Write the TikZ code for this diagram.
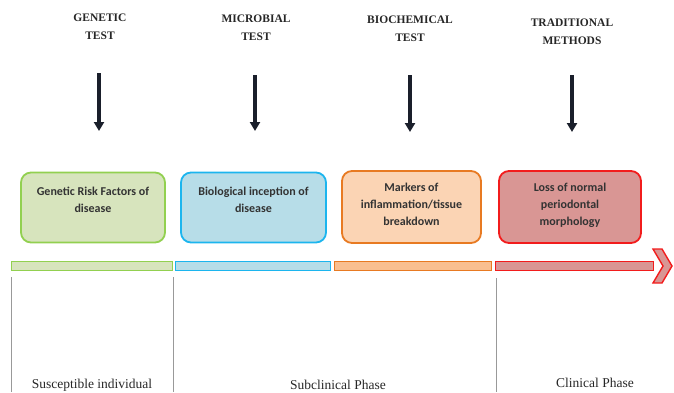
\documentclass[tikz,border=0pt]{standalone}
\usepackage{fontspec}
\setmainfont{Liberation Serif}
\newfontfamily\boxfont{Carlito}
\usetikzlibrary{arrows.meta}
\definecolor{gB}{HTML}{92D050}\definecolor{gF}{HTML}{D7E4BD}
\definecolor{bB}{HTML}{1CB5EE}\definecolor{bF}{HTML}{B7DDE8}
\definecolor{oB}{HTML}{E87A22}\definecolor{oF}{HTML}{FBD4B4}\definecolor{oF2}{HTML}{F9BF90}
\definecolor{rB}{HTML}{F21C1C}\definecolor{rF}{HTML}{D99694}
\definecolor{arr}{HTML}{1A1F2B}
\begin{document}
\begin{tikzpicture}[x=1pt,y=-1pt,
  title/.style={align=center,font=\bfseries\fontsize{11.5}{18}\selectfont,text=black!85,inner sep=0pt},
  stagebox/.style={draw=#1B,fill=#1F,line width=1.8pt,rounded corners=10pt,minimum width=144pt,minimum height=70pt,inner sep=0pt},
  boxtext/.style={align=center,font=\boxfont\bfseries\fontsize{12}{17}\selectfont,text=black!80,inner sep=0pt},
  barseg/.style={draw=#1B,line width=1.8pt,minimum height=9pt,inner sep=0pt},
  downarrow/.style={draw=arr,line width=3.6pt,-{Triangle[width=10pt,length=9pt]}},
  divider/.style={draw=black!40,line width=1pt},
  phase/.style={font=\fontsize{13.5}{16}\selectfont,text=black!85,inner sep=0pt}
]
\useasboundingbox (0,0) rectangle (674,392);
% titles
\node[title] (t1) at (100,27) {GENETIC\\TEST};
\node[title] (t2) at (256,28) {MICROBIAL\\TEST};
\node[title] (t3) at (410,29) {BIOCHEMICAL\\TEST};
\node[title] (t4) at (572,32) {TRADITIONAL\\METHODS};
% arrows
\coordinate (a1s) at (99,73);  \coordinate (a1e) at (99,131);
\coordinate (a2s) at (255,75); \coordinate (a2e) at (255,131);
\coordinate (a3s) at (410,75); \coordinate (a3e) at (410,132);
\coordinate (a4s) at (572,75); \coordinate (a4e) at (572,132);
\draw[downarrow] (a1s) -- (a1e);
\draw[downarrow] (a2s) -- (a2e);
\draw[downarrow] (a3s) -- (a3e);
\draw[downarrow] (a4s) -- (a4e);
% boxes
\node[stagebox=g,minimum width=144pt] (b1) at (93,207.5) {};
\node[stagebox=b,minimum width=145pt] (b2) at (253.5,207.5) {};
\node[stagebox=o,minimum width=139pt,minimum height=72pt] (b3) at (411.5,207) {};
\node[stagebox=r,minimum width=142pt,minimum height=72pt] (b4) at (570,207) {};
\node[boxtext] (x1) at (93,200) {Genetic Risk Factors of\\disease};
\node[boxtext] (x2) at (253.5,200) {Biological inception of\\disease};
\node[boxtext] (x3) at (411.5,204.5) {Markers of\\inflammation/tissue\\breakdown};
\node[boxtext] (x4) at (570,205) {Loss of normal\\periodontal\\morphology};
% bar
\node[barseg=g,fill=gF,minimum width=161pt] (s1) at (92,266) {};
\node[barseg=b,fill=bF,minimum width=155pt] (s2) at (253,266) {};
\node[barseg=o,fill=oF2,minimum width=157pt] (s3) at (413,266) {};
\node[barseg=r,fill=rF,minimum width=158pt] (s4) at (574.5,266) {};
\draw[draw=rB,fill=rF,line width=1.4pt,line join=miter]
  (653,249) -- (662,249) -- (672,266) -- (662,283) -- (653,283) -- (663,266) -- cycle;
% dividers
\coordinate (d1s) at (11,277);  \coordinate (d1e) at (11,392);
\coordinate (d2s) at (173,277); \coordinate (d2e) at (173,392);
\coordinate (d3s) at (496,278); \coordinate (d3e) at (496,392);
\draw[divider] (d1s) -- (d1e);
\draw[divider] (d2s) -- (d2e);
\draw[divider] (d3s) -- (d3e);
% phases
\node[phase] (p1) at (92,385) {Susceptible individual};
\node[phase] (p2) at (338,385) {Subclinical Phase};
\node[phase] (p3) at (595,383) {Clinical Phase};
\end{tikzpicture}
\end{document}
